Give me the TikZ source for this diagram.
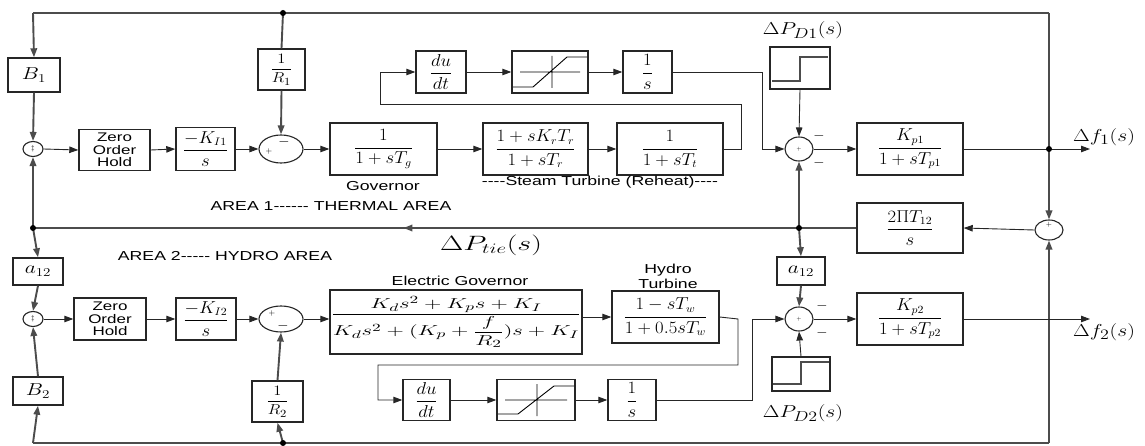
\documentclass[tikz,border=0pt]{standalone}
\usepackage{fontspec}
\setsansfont{Liberation Sans}[Ligatures=TeXOff]
\usetikzlibrary{arrows.meta,shapes.geometric,decorations.markings}
\newcommand\hs[1]{\scalebox{1.36}[1]{#1}}
\newcommand\bfr[2]{\scalebox{1.08}[1]{\fontsize{16}{18}\selectfont$\displaystyle\frac{#1}{#2}$}}
\newcommand\sfr[2]{\scalebox{1.15}[1]{\fontsize{15}{16}\selectfont$\displaystyle\frac{#1}{#2}$}}
\newcommand\lgmath[1]{\scalebox{1.25}[1]{\fontsize{19}{20}\selectfont$#1$}}
\tikzset{
  blk/.style args={#1x#2}{draw=black!85, line width=1.4pt, inner sep=0pt,
     minimum width=#1pt, minimum height=#2pt, fill=white},
  sumn/.style args={#1x#2}{draw=black!85, ellipse, line width=1.1pt, inner sep=0pt,
     minimum width=#1pt, minimum height=#2pt, fill=white},
  wire/.style={line width=0.9pt, draw=black!85},
  bus/.style={line width=1.9pt, draw=black!70},
  arr/.style={-{Triangle[length=9pt,width=6.5pt]}},
  midarr/.style={postaction={decorate}, decoration={markings,
     mark=at position #1 with {\arrow{Triangle[length=9pt,width=6.5pt]}}}},
  lbl/.style={font=\sffamily\fontsize{13}{14}\selectfont, inner sep=0pt},
  dot/.style={circle, fill=black, inner sep=0pt, minimum size=6pt},
  sgn/.style={inner sep=0pt, font=\fontsize{15}{15}\selectfont},
}
\begin{document}
\begin{tikzpicture}[x=1pt,y=-1pt]
\useasboundingbox (0,0) rectangle (1145,446);
% ---------- coordinates
\coordinate (tl) at (33,13);
\coordinate (tr) at (1049,13);
\coordinate (bl) at (33,443);
\coordinate (br) at (1049,443);
\coordinate (jt) at (283,13);
\coordinate (jb) at (283,443);
\coordinate (jtl) at (33,228);
\coordinate (jtm) at (799,228);
\coordinate (jf1) at (1049,149);
\coordinate (o1) at (1090,149);
\coordinate (o2) at (1090,319);
\coordinate (l1a) at (741,149);
\coordinate (l1b) at (741,104);
\coordinate (l1c) at (380,104);
\coordinate (l1d) at (380,72);
\coordinate (m1a) at (762,72);
\coordinate (m1b) at (762,149);
\coordinate (l2a) at (738,319);
\coordinate (l2b) at (738,365);
\coordinate (l2c) at (378,365);
\coordinate (l2d) at (378,400);
\coordinate (m2a) at (752,400);
\coordinate (m2b) at (752,319);
% ---------- area 1
\node[blk=52x34] (B1) at (34,75) {\scalebox{1.25}[1]{\fontsize{17}{18}\selectfont$B_1$}};
\node[sumn=20x15] (s1) at (33,149) {\scriptsize$\ddagger$};
\node[blk=71x41] (zoh1) at (114.5,150) {\hs{\parbox{45pt}{\centering\sffamily\fontsize{12.5}{12.5}\selectfont Zero\\Order\\Hold}}};
\node[blk=59x43] (ki1) at (205.5,149) {\bfr{-K_{I1}}{s}};
\node[blk=47x41] (r1) at (281.5,69.5) {\sfr{1}{R_1}};
\node[sumn=44x28] (s2) at (281,149) {};
\node[blk=107x52] (gov) at (383.5,149) {\bfr{1}{1+sT_g}};
\node[blk=105x52] (reh) at (535.5,149) {\bfr{1+sK_rT_r}{1+sT_r}};
\node[blk=106x52] (tt) at (670,149) {\bfr{1}{1+sT_t}};
\node[blk=50x42] (dudt1) at (441,72) {\bfr{du}{dt}};
\node[blk=76x42] (sat1) at (550,72) {};
\node[blk=49x42] (int1) at (647.5,72) {\bfr{1}{s}};
\node[sumn=28x24] (s3) at (799,149) {\tiny$+$};
\node[blk=60x42] (pd1) at (800,68) {};
\node[blk=106x52] (kp1) at (910,149) {\bfr{K_{p1}}{1+sT_{p1}}};
\node[blk=106x50] (tie) at (910,228) {\bfr{2\Pi T_{12}}{s}};
\node[sumn=28x20] (s4) at (1049,230) {};
% ---------- area 2
\node[blk=48x28] (a12r) at (801,271) {\scalebox{1.25}[1]{\fontsize{17}{18}\selectfont$a_{12}$}};
\node[sumn=28x24] (s5) at (799,319) {\tiny$+$};
\node[blk=106x52] (kp2) at (910,319) {\bfr{K_{p2}}{1+sT_{p2}}};
\node[blk=58x34] (pd2) at (801,374) {};
\node[blk=50x27] (a12l) at (38,271.5) {\scalebox{1.25}[1]{\fontsize{17}{18}\selectfont$a_{12}$}};
\node[sumn=20x15] (s6) at (33,319) {\scriptsize$\ddagger$};
\node[blk=50x28] (B2) at (38,391) {\scalebox{1.25}[1]{\fontsize{17}{18}\selectfont$B_2$}};
\node[blk=72x42] (zoh2) at (110,319) {\hs{\parbox{45pt}{\centering\sffamily\fontsize{12.5}{12.5}\selectfont Zero\\Order\\Hold}}};
\node[blk=60x42] (ki2) at (206,319) {\bfr{-K_{I2}}{s}};
\node[sumn=44x26] (s7) at (281,319) {};
\node[blk=51x41] (r2) at (277.5,401.5) {\sfr{1}{R_2}};
\node[blk=252x64] (eg) at (456,322) {\scalebox{1.58}[1]{\fontsize{15}{16}\selectfont$\displaystyle\frac{K_ds^2+K_ps+K_I}{K_ds^2+(K_p+{\displaystyle\frac{f}{R_2}})s+K_I}$}};
\node[blk=107x52] (ht) at (665.5,317) {\bfr{1-sT_w}{1+0.5sT_w}};
\node[blk=47x41] (dudt2) at (426.5,400) {\bfr{du}{dt}};
\node[blk=78x41] (sat2) at (536,400) {};
\node[blk=48x41] (int2) at (632,400) {\bfr{1}{s}};
% ---------- icons
\draw[line width=0.9pt] (520,72) -- (580,72) (552,56) -- (552,88)
   (513,87) -- (533,87) -- (567,57) -- (587,57);
\draw[line width=0.9pt] (505,400) -- (567,400) (537,384) -- (537,416)
   (498,414) -- (518,414) -- (554,386) -- (574,386);
\draw[line width=1.2pt, black!70] (772,81) -- (800,81) -- (800,57) -- (828,57);
\draw[line width=1.2pt, black!70] (773,384) -- (801,384) -- (801,362) -- (829,362);
% ---------- sum signs
\node[sgn] at (284,142) {$-$};
\node[sgn, font=\footnotesize] at (269,152) {$+$};
\node[sgn, font=\footnotesize] at (272,313) {$+$};
\node[sgn] at (283,326) {$-$};
\node[sgn, font=\scriptsize] at (1049,225) {$+$};
\node[sgn] at (819,136) {$-$};
\node[sgn] at (819,163) {$-$};
\node[sgn] at (822,306) {$-$};
\node[sgn] at (822,333) {$-$};
% ---------- outer bus
\draw[bus] (tl) -- (tr);
\draw[bus] (bl) -- (br);
\draw[bus, arr] (tl) -- (B1.north);
\draw[bus, arr] (B1.south) -- (s1.north);
\draw[bus, arr] (jtl) -- (s1.south);
\draw[bus, arr] (jtl) -- (a12l.north);
\draw[bus, arr] (a12l.south) -- (s6.north);
\draw[bus, arr] (B2.north) -- (s6.south);
\draw[bus, arr] (bl) -- (B2.south);
\draw[bus] (jt) -- (r1.north);
\draw[bus, arr] (r1.south) -- (s2.north);
\draw[bus, arr] (jb) -- (r2.south);
\draw[bus, arr] (r2.north) -- (s7.south);
\draw[bus, arr] (tr) -- (s4.north);
\draw[bus, arr] (br) -- (s4.south);
\draw[bus, midarr=0.55] (tie.west) -- (jtl);
\draw[wire, arr] (s4.west) -- (tie.east);
\draw[bus, arr] (jtm) -- (s3.south);
\draw[bus, arr] (jtm) -- (a12r.north);
\draw[bus, arr] (a12r.south) -- (s5.north);
\draw[wire, arr] (pd1.south) -- (s3.north);
\draw[wire, arr] (pd2.north) -- (s5.south);
% ---------- signal path area 1
\draw[wire, arr] (s1.east) -- (zoh1.west);
\draw[wire, arr] (zoh1.east) -- (ki1.west);
\draw[wire, arr] (ki1.east) -- (s2.west);
\draw[wire, arr] (s2.east) -- (gov.west);
\draw[wire, arr] (gov.east) -- (reh.west);
\draw[wire, arr] (reh.east) -- (tt.west);
\draw[wire, arr] (tt.east) -- (l1a) -- (l1b) -- (l1c) -- (l1d) -- (dudt1.west);
\draw[wire, arr] (dudt1.east) -- (sat1.west);
\draw[wire, arr] (sat1.east) -- (int1.west);
\draw[wire, arr] (int1.east) -- (m1a) -- (m1b) -- (s3.west);
\draw[wire, arr] (s3.east) -- (kp1.west);
\draw[wire, arr] (kp1.east) -- (o1);
% ---------- signal path area 2
\draw[wire, arr] (s6.east) -- (zoh2.west);
\draw[wire, arr] (zoh2.east) -- (ki2.west);
\draw[wire, arr] (ki2.east) -- (s7.west);
\draw[wire, arr] (s7.east) -- (s7.east -| eg.west);
\draw[wire, arr] (eg.east |- ht.west) -- (ht.west);
\draw[wire, arr] (ht.east) -- (l2a) -- (l2b) -- (l2c) -- (l2d) -- (dudt2.west);
\draw[wire, arr] (dudt2.east) -- (sat2.west);
\draw[wire, arr] (sat2.east) -- (int2.west);
\draw[wire, arr] (int2.east) -- (m2a) -- (m2b) -- (s5.west);
\draw[wire, arr] (s5.east) -- (kp2.west);
\draw[wire, arr] (kp2.east) -- (o2);
% ---------- junction dots
\node[dot] at (jt) {};
\node[dot] at (jb) {};
\node[dot] at (jtl) {};
\node[dot] at (jtm) {};
\node[dot] at (jf1) {};
% ---------- labels
\node[lbl] at (383,186) {\hs{Governor}};
\node[lbl] at (600,182) {\hs{----Steam Turbine (Reheat)----}};
\node[lbl] at (331,206) {\hs{AREA 1------ THERMAL AREA}};
\node[lbl] at (225,256) {\hs{AREA 2----- HYDRO AREA}};
\node[lbl] at (460,281) {\hs{Electric Governor}};
\node[lbl] at (668,270) {\hs{Hydro}};
\node[lbl] at (668,284) {\hs{Turbine}};
\node[inner sep=0pt] at (491,245) {\scalebox{1.45}[1]{\fontsize{20}{21}\selectfont$\Delta P_{tie}(s)$}};
\node[inner sep=0pt] at (803,30) {\lgmath{\Delta P_{D1}(s)}};
\node[inner sep=0pt] at (803,413) {\lgmath{\Delta P_{D2}(s)}};
\node[inner sep=0pt] at (1104,137) {\lgmath{\Delta f_1(s)}};
\node[inner sep=0pt] at (1104,332) {\lgmath{\Delta f_2(s)}};
\end{tikzpicture}
\end{document}
